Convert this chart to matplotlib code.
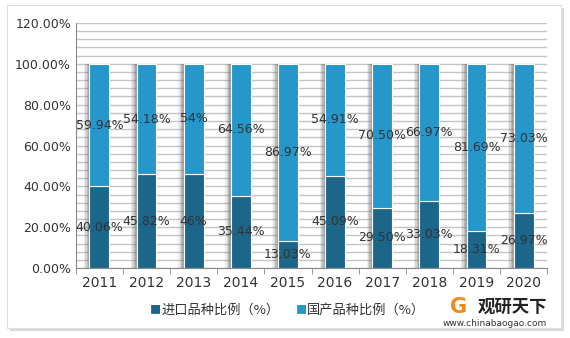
import matplotlib.pyplot as plt
import numpy as np
from matplotlib.patches import Rectangle

plt.rcParams['font.family'] = ['Noto Sans CJK SC', 'DejaVu Sans']

years = ['2011', '2012', '2013', '2014', '2015', '2016', '2017', '2018', '2019', '2020']
imported = [40.06, 45.82, 46, 35.44, 13.03, 45.09, 29.50, 33.03, 18.31, 26.97]
domestic = [59.94, 54.18, 54, 64.56, 86.97, 54.91, 70.50, 66.97, 81.69, 73.03]
imported_txt = ['40.06%', '45.82%', '46%', '35.44%', '13.03%', '45.09%', '29.50%', '33.03%', '18.31%', '26.97%']
domestic_txt = ['59.94%', '54.18%', '54%', '64.56%', '86.97%', '54.91%', '70.50%', '66.97%', '81.69%', '73.03%']

c_dark = '#1B6689'
c_light = '#2597CB'

fig = plt.figure(figsize=(5.7, 3.38), dpi=100)
# outer frame with shadow
fig.patches.append(Rectangle((0.018, 0.02), 0.972, 0.955, transform=fig.transFigure,
                             facecolor='#d9d9d9', edgecolor='none', zorder=0))
fig.patches.append(Rectangle((0.012, 0.03), 0.972, 0.955, transform=fig.transFigure,
                             facecolor='white', edgecolor='#e0e0e0', lw=0.8, zorder=0.5))

ax = fig.add_axes([0.133, 0.207, 0.827, 0.725])
ax.set_zorder(2)
x = np.arange(len(years))
w = 0.42

# soft shadows behind bars
for off, a in [(0.12, 0.12), (0.09, 0.18), (0.06, 0.25), (0.03, 0.3)]:
    ax.bar(x - off, 100, width=w, color='#707070', alpha=a, zorder=2, linewidth=0)

ax.bar(x, imported, width=w, color=c_dark, edgecolor='white', linewidth=0.8, zorder=3)
ax.bar(x, domestic, width=w, bottom=imported, color=c_light, edgecolor='white', linewidth=0.8, zorder=3)

for i in range(len(years)):
    ax.text(x[i], imported[i] / 2, imported_txt[i], ha='center', va='center',
            fontsize=9, color='#333333', family='DejaVu Sans', zorder=4)
    ax.text(x[i], imported[i] + domestic[i] / 2, domestic_txt[i], ha='center', va='center',
            fontsize=9, color='#333333', family='DejaVu Sans', zorder=4)

ax.set_xlim(-0.5, len(years) - 0.5)
ax.set_ylim(0, 120)
ax.set_yticks(np.arange(0, 121, 20))
ax.set_yticklabels(['%.2f%%' % v for v in np.arange(0, 121, 20)], fontsize=9,
                   color='#333333', family='DejaVu Sans')
ax.set_yticks(np.arange(0, 121, 4), minor=True)
ax.yaxis.grid(True, which='both', color='#c4c4c4', lw=1.0, zorder=0)
ax.set_axisbelow(True)
ax.tick_params(axis='y', which='both', length=0)

ax.set_xticks(x)
ax.set_xticklabels(years, fontsize=10, color='#333333', family='DejaVu Sans')
ax.set_xticks(np.arange(-0.5, len(years), 1), minor=True)
ax.tick_params(axis='x', which='major', length=0, pad=6)
ax.tick_params(axis='x', which='minor', length=4, color='#888888', direction='out')

for s in ['top', 'right']:
    ax.spines[s].set_visible(False)
ax.spines['left'].set_color('#888888')
ax.spines['bottom'].set_color('#888888')
ax.patch.set_alpha(0)

# legend
fig.text(0.272, 0.083, '■', color=c_dark, fontsize=8, va='center', ha='center')
fig.text(0.283, 0.083, '进口品种比例（%）', color='#333333', fontsize=9.5, va='center')
fig.text(0.528, 0.083, '■', color=c_light, fontsize=8, va='center', ha='center')
fig.text(0.539, 0.083, '国产品种比例（%）', color='#333333', fontsize=9.5, va='center')

# watermark
fig.text(0.838, 0.093, '观研天下', color='#222222', fontsize=12.5, fontweight='bold', va='center')
fig.text(0.868, 0.042, 'www.chinabaogao.com', color='#333333', fontsize=6.5, va='center', ha='center',
         family='DejaVu Sans')
fig.text(0.805, 0.093, 'G', color='#f08a1c', fontsize=15, fontweight='bold', va='center', ha='center',
         family='DejaVu Sans')

fig.savefig('out.png', dpi=100)
